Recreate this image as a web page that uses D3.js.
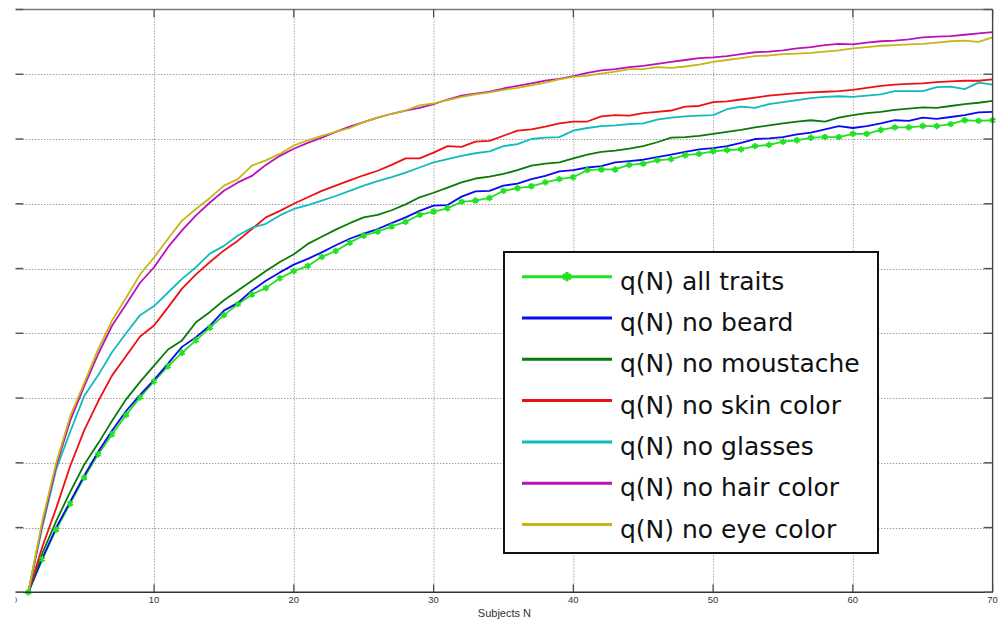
<!DOCTYPE html>
<html>
<head>
<meta charset="utf-8">
<script src="https://cdn.jsdelivr.net/npm/d3@7"></script>
<style>
  body { margin: 0; background: #fff; }
  svg { display: block; }
</style>
</head>
<body>
<div id="chart"></div>
<script>
// subjects N = 1..70
var subjects = d3.range(1, 71);

var allTraits = [0,0.51,0.97,1.37,1.77,2.13,2.44,2.74,3.01,3.26,3.49,3.70,3.89,4.09,4.28,4.45,4.60,4.70,4.85,4.96,
  5.04,5.18,5.27,5.40,5.51,5.57,5.65,5.72,5.83,5.88,5.93,6.03,6.05,6.09,6.20,6.24,6.27,6.33,6.38,6.41,
  6.52,6.53,6.53,6.60,6.62,6.67,6.69,6.75,6.77,6.81,6.83,6.84,6.89,6.91,6.96,6.98,7.02,7.03,7.03,7.08,
  7.08,7.14,7.18,7.18,7.20,7.20,7.23,7.29,7.28,7.29];
var noBeard = [0,0.52,1.0,1.4,1.8,2.17,2.5,2.8,3.05,3.28,3.53,3.79,3.94,4.12,4.35,4.47,4.66,4.81,4.94,5.06,
  5.15,5.25,5.36,5.46,5.54,5.61,5.70,5.79,5.89,5.97,5.98,6.11,6.19,6.20,6.28,6.31,6.38,6.43,6.50,6.52,
  6.56,6.58,6.64,6.66,6.68,6.72,6.76,6.80,6.84,6.86,6.89,6.94,7.00,7.01,7.03,7.07,7.10,7.15,7.20,7.17,
  7.20,7.24,7.29,7.28,7.33,7.31,7.34,7.37,7.41,7.42];
var noMoustache = [0,0.6,1.1,1.55,1.97,2.3,2.65,2.98,3.25,3.5,3.75,3.89,4.17,4.33,4.51,4.66,4.81,4.96,5.10,5.22,
  5.38,5.49,5.60,5.70,5.79,5.83,5.90,5.99,6.10,6.17,6.25,6.33,6.39,6.42,6.46,6.52,6.59,6.62,6.64,6.70,
  6.76,6.80,6.82,6.85,6.89,6.95,7.02,7.03,7.05,7.08,7.11,7.14,7.18,7.21,7.24,7.27,7.29,7.27,7.33,7.37,
  7.40,7.42,7.45,7.47,7.49,7.48,7.51,7.54,7.56,7.59];
var noSkin = [0,0.7,1.3,1.95,2.5,2.95,3.35,3.65,3.95,4.12,4.40,4.69,4.91,5.10,5.28,5.43,5.61,5.79,5.89,6.00,
  6.10,6.20,6.28,6.36,6.44,6.51,6.60,6.70,6.70,6.79,6.89,6.88,6.96,6.97,7.05,7.13,7.15,7.19,7.24,7.27,
  7.27,7.35,7.37,7.36,7.40,7.42,7.44,7.50,7.51,7.57,7.58,7.61,7.64,7.67,7.69,7.71,7.72,7.73,7.74,7.76,
  7.79,7.82,7.84,7.85,7.86,7.88,7.89,7.90,7.90,7.92];
var noGlasses = [0,1.0,1.9,2.48,3.03,3.35,3.71,4.0,4.28,4.42,4.63,4.84,5.02,5.23,5.35,5.51,5.63,5.69,5.82,5.92,
  5.98,6.05,6.12,6.20,6.28,6.35,6.41,6.48,6.56,6.64,6.69,6.74,6.78,6.81,6.89,6.92,7.00,7.02,7.03,7.13,
  7.17,7.20,7.21,7.23,7.24,7.30,7.33,7.35,7.36,7.37,7.46,7.50,7.48,7.54,7.57,7.60,7.63,7.65,7.66,7.65,
  7.67,7.69,7.74,7.74,7.74,7.80,7.81,7.77,7.87,7.84];
var noHair = [0,1.05,1.95,2.65,3.18,3.68,4.12,4.45,4.78,5.02,5.33,5.59,5.82,6.02,6.20,6.33,6.43,6.60,6.74,6.85,
  6.94,7.02,7.11,7.19,7.26,7.33,7.39,7.44,7.48,7.54,7.61,7.67,7.70,7.73,7.78,7.82,7.86,7.90,7.93,7.97,
  8.02,8.06,8.08,8.11,8.13,8.16,8.19,8.22,8.25,8.26,8.28,8.31,8.34,8.35,8.37,8.40,8.42,8.45,8.47,8.46,
  8.49,8.51,8.52,8.54,8.57,8.58,8.59,8.61,8.63,8.65];
var noEye = [0,1.1,2.0,2.72,3.23,3.75,4.20,4.55,4.91,5.17,5.46,5.74,5.92,6.09,6.28,6.38,6.59,6.67,6.77,6.90,
  6.98,7.05,7.11,7.17,7.26,7.33,7.39,7.44,7.52,7.55,7.60,7.65,7.69,7.72,7.76,7.79,7.83,7.87,7.92,7.96,
  7.98,8.01,8.04,8.08,8.08,8.11,8.10,8.12,8.15,8.19,8.22,8.25,8.28,8.29,8.31,8.32,8.33,8.35,8.37,8.40,
  8.42,8.44,8.45,8.46,8.47,8.49,8.51,8.52,8.50,8.57];

var labels = ["q(N) all traits","q(N) no beard","q(N) no moustache","q(N) no skin color",
  "q(N) no glasses","q(N) no hair color","q(N) no eye color"];
var colors = ["#22e022","#0a0af0","#0a7a0a","#ee1111","#11bbbb","#bb11bb","#c4b816"];
var xTicks = [0,10,20,30,40,50,60,70];

var series = [allTraits, noBeard, noMoustache, noSkin, noGlasses, noHair, noEye].map(function(vals, i){
    return {label: labels[i], color: colors[i], values: vals.map(function(v, j){ return {n: subjects[j], q: v}; })};
});

var width = 1007, height = 623;

var x = d3.scaleLinear().domain([0, 70]).range([14.3, 992.6]);
var y = d3.scaleLinear().domain([0, 9]).range([592.3, 9.5]);

var svg = d3.select("#chart").append("svg")
    .attr("width", width)
    .attr("height", height)
    .style("font-family", "'Liberation Sans', Arial, sans-serif");

// grid
var grid = svg.append("g")
    .attr("stroke", "#777")
    .attr("stroke-width", 1)
    .attr("stroke-dasharray", "1,2");

grid.selectAll(".gx")
    .data(xTicks.slice(1, -1))
    .enter().append("line")
    .attr("x1", d=>x(d) + 0.5).attr("x2", d=>x(d) + 0.5)
    .attr("y1", y(9)).attr("y2", y(0));

grid.selectAll(".gy")
    .data(d3.range(1, 9))
    .enter().append("line")
    .attr("x1", x(0)).attr("x2", x(70))
    .attr("y1", d=>Math.round(y(d)) + 0.5).attr("y2", d=>Math.round(y(d)) + 0.5);

// lines
var line = d3.line()
    .x(d=>x(d.n))
    .y(d=>y(d.q));

svg.append("g")
    .selectAll("path")
    .data(series)
    .enter().append("path")
    .attr("d", d=>line(d.values))
    .attr("fill", "none")
    .attr("stroke", d=>d.color)
    .attr("stroke-width", 1.8)
    .attr("stroke-linejoin", "round");

var star = d3.symbol().type(d3.symbolAsterisk).size(28);

svg.append("g")
    .selectAll("path")
    .data(series[0].values)
    .enter().append("path")
    .attr("transform", d=>"translate(" + x(d.n) + "," + y(d.q) + ")")
    .attr("d", star)
    .attr("fill", "none")
    .attr("stroke", colors[0])
    .attr("stroke-width", 2);

// frame and ticks (inward, matlab style)
var frame = svg.append("g").attr("fill", "none");
frame.append("line")
    .attr("x1", x(0)).attr("x2", x(70)).attr("y1", y(0)).attr("y2", y(0))
    .attr("stroke", "#333").attr("stroke-width", 1.6);
frame.append("line")
    .attr("x1", x(0)).attr("x2", x(70)).attr("y1", y(9)).attr("y2", y(9))
    .attr("stroke", "#777").attr("stroke-width", 1.6);
frame.append("line")
    .attr("x1", x(70)).attr("x2", x(70)).attr("y1", y(9)).attr("y2", y(0))
    .attr("stroke", "#444").attr("stroke-width", 1.4);

frame.selectAll(".tb")
    .data(xTicks)
    .enter().append("line")
    .attr("x1", d=>x(d)).attr("x2", d=>x(d))
    .attr("y1", y(0)).attr("y2", y(0) - 8)
    .attr("stroke", "#444").attr("stroke-width", 1.2);
frame.selectAll(".tt")
    .data(xTicks)
    .enter().append("line")
    .attr("x1", d=>x(d)).attr("x2", d=>x(d))
    .attr("y1", y(9)).attr("y2", y(9) + 8)
    .attr("stroke", "#444").attr("stroke-width", 1.2);
frame.selectAll(".tl")
    .data(d3.range(0, 10))
    .enter().append("line")
    .attr("x1", x(0)).attr("x2", x(0) + 9)
    .attr("y1", d=>y(d)).attr("y2", d=>y(d))
    .attr("stroke", "#555").attr("stroke-width", 1.4);
frame.selectAll(".tr")
    .data(d3.range(0, 10))
    .enter().append("line")
    .attr("x1", x(70)).attr("x2", x(70) - 9)
    .attr("y1", d=>y(d)).attr("y2", d=>y(d))
    .attr("stroke", "#555").attr("stroke-width", 1.4);

svg.append("g")
    .selectAll("text")
    .data(xTicks)
    .enter().append("text")
    .attr("x", d=>x(d))
    .attr("y", 603)
    .attr("text-anchor", "middle")
    .attr("font-size", 9.5)
    .attr("fill", "#333")
    .text(d=>d);

svg.append("text")
    .attr("x", (x(0) + x(70)) / 2 + 1)
    .attr("y", 617)
    .attr("text-anchor", "middle")
    .attr("font-size", 11)
    .attr("fill", "#333")
    .text("Subjects N");

// image is cut on the left
svg.append("rect")
    .attr("x", 0).attr("y", 0)
    .attr("width", 15.5).attr("height", height)
    .attr("fill", "#fff");

// legend
var legend = svg.append("g").attr("transform", "translate(504,252)");
legend.append("rect")
    .attr("width", 374).attr("height", 301)
    .attr("fill", "#fff")
    .attr("stroke", "#111")
    .attr("stroke-width", 2);

var rows = legend.selectAll(".row")
    .data(series)
    .enter().append("g")
    .attr("transform", (d, i)=>"translate(0," + (24.7 + i * 41.3) + ")");

rows.append("line")
    .attr("x1", 18).attr("x2", 108)
    .attr("stroke", d=>d.color)
    .attr("stroke-width", 3);

rows.filter((d, i)=>i == 0).append("path")
    .attr("transform", "translate(63,0)")
    .attr("d", d3.symbol().type(d3.symbolAsterisk).size(60))
    .attr("fill", "none")
    .attr("stroke", colors[0])
    .attr("stroke-width", 3);

rows.append("text")
    .attr("x", 116)
    .attr("y", 13)
    .attr("font-family", "'DejaVu Sans', sans-serif")
    .attr("font-size", 25)
    .attr("fill", "#111")
    .text(d=>d.label);
</script>
</body>
</html>
